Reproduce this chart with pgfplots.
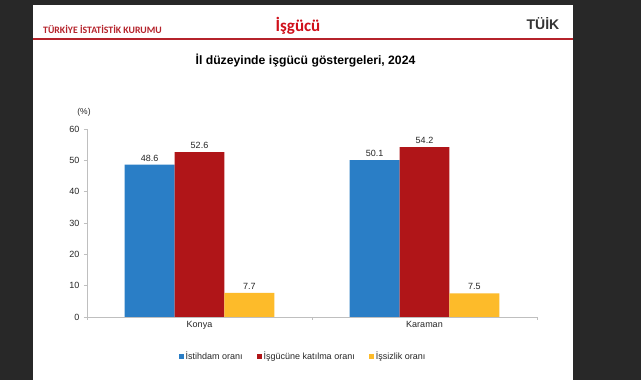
\documentclass[border=0pt]{standalone}
\usepackage{pgfplots}
\pgfplotsset{compat=1.18}
\usepackage{fontspec}
\setmainfont{Liberation Sans}
\newfontfamily\calibri{Carlito}
\definecolor{bgdark}{HTML}{282828}
\definecolor{tuikred}{HTML}{B5232B}
\definecolor{hdrred}{HTML}{D0101A}
\definecolor{cblue}{HTML}{2A7EC6}
\definecolor{cred}{HTML}{B01518}
\definecolor{cyellow}{HTML}{FDBB2A}
\definecolor{axgrey}{HTML}{BFBFBF}
\begin{document}
\begin{tikzpicture}
\fill[bgdark] (0pt,0pt) rectangle (641pt,380pt);
\fill[white] (33pt,0pt) rectangle (573pt,375pt);
\draw[tuikred,line width=1.2pt] (33pt,341pt) -- (573pt,341pt);
\node[anchor=west,text=tuikred,font=\calibri\bfseries\fontsize{9.8}{11}\selectfont,inner sep=0pt] at (43pt,351pt) {TÜRKİYE İSTATİSTİK KURUMU};
\node[text=hdrred,font=\calibri\bfseries\fontsize{17}{20}\selectfont,inner sep=0pt] at (298pt,354pt) {İşgücü};
\node[text=black!80,font=\bfseries\fontsize{14}{16}\selectfont,inner sep=0pt] at (543pt,356pt) {TÜİK};
\node[font=\bfseries\fontsize{12.2}{14}\selectfont,inner sep=0pt] at (305.5pt,319pt) {İl düzeyinde işgücü göstergeleri, 2024};
\node[font=\fontsize{8.5}{10}\selectfont,inner sep=0pt,text=black!85] at (84pt,268pt) {(\%)};
\begin{axis}[
  at={(87pt,63pt)}, anchor=south west,
  scale only axis, width=450pt, height=188pt,
  ybar, bar width=0.222,
  xmin=-0.5, xmax=1.5, ymin=0, ymax=60,
  axis lines=left, axis line style={axgrey,-},
  ytick={0,10,...,60},
  xtick={-0.5,0.5,1.5}, xticklabels={},
  extra x ticks={0,1}, extra x tick labels={Konya,Karaman},
  extra x tick style={major tick length=0pt, xticklabel style={yshift=-1pt}},
  tick align=outside, major tick length=3pt,
  tick style={axgrey,line width=0.6pt},
  /pgf/number format/assume math mode=true,
  ticklabel style={font=\fontsize{9}{10}\selectfont,text=black!85},
  yticklabel style={xshift=-1pt},
  nodes near coords,
  nodes near coords style={font=\fontsize{9}{10}\selectfont,text=black!85,/pgf/number format/fixed,/pgf/number format/fixed zerofill,/pgf/number format/precision=1,/pgf/number format/assume math mode=true},
  legend columns=3,
  legend style={at={(0.48,-0.208)},anchor=center,draw=none,font=\fontsize{9}{10}\selectfont,text=black!85,
    /tikz/every even column/.append style={column sep=12pt}},
  legend image code/.code={\fill[#1] (0pt,-2.5pt) rectangle (5pt,2.5pt);},
  clip=false,
]
\addplot[fill=cblue,draw=none,bar shift=-0.222] coordinates {(0,48.6) (1,50.1)};
\addplot[fill=cred,draw=none,bar shift=0] coordinates {(0,52.6) (1,54.2)};
\addplot[fill=cyellow,draw=none,bar shift=0.222] coordinates {(0,7.7) (1,7.5)};
\legend{İstihdam oranı,İşgücüne katılma oranı,İşsizlik oranı}
\end{axis}
\end{tikzpicture}
\end{document}
